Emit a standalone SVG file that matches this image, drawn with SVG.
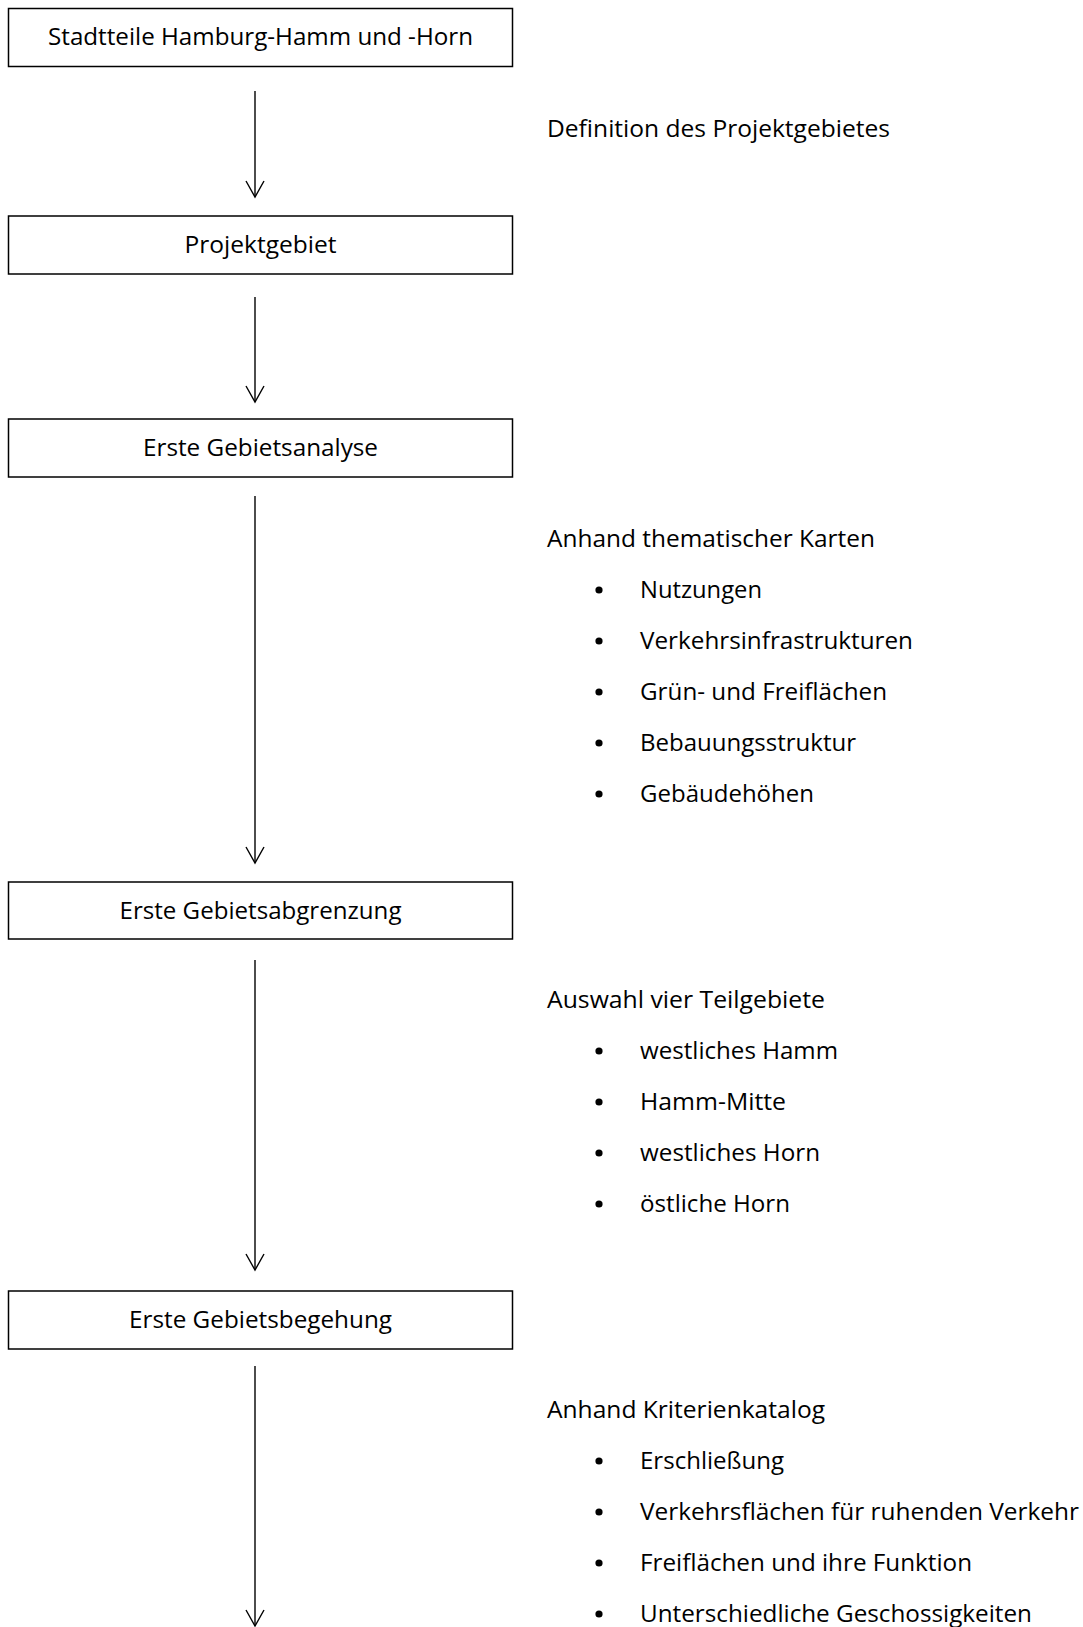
<svg xmlns="http://www.w3.org/2000/svg" width="1083" height="1627" viewBox="0 0 1083 1627">
<style>
.box{fill:#fff;stroke:#000;stroke-width:1.5}
.t{font-family:"Open Sans","Liberation Sans",sans-serif;font-size:23.5px;fill:#000}
.c{text-anchor:middle}
.conn line{stroke:#000;stroke-width:1.4}
.dot{fill:#000}
</style>
<defs>
<marker id="ah" markerUnits="userSpaceOnUse" markerWidth="22" markerHeight="24" viewBox="-19 -12 22 24" refX="0" refY="0" orient="auto">
<path d="M-16,-9 L0,0 L-16,9" fill="none" stroke="#000" stroke-width="1.4"/>
</marker>
</defs>
<rect width="1083" height="1627" fill="#fff"/>
<g id="n1"><rect class="box" x="8.5" y="8.5" width="504" height="58"/><text class="t c" x="260.5" y="45" textLength="425" lengthAdjust="spacingAndGlyphs">Stadtteile Hamburg-Hamm und -Horn</text></g>
<g id="n2"><rect class="box" x="8.5" y="216" width="504" height="58"/><text class="t c" x="260.5" y="253" textLength="152" lengthAdjust="spacingAndGlyphs">Projektgebiet</text></g>
<g id="n3"><rect class="box" x="8.5" y="419" width="504" height="58"/><text class="t c" x="260.5" y="456" textLength="235" lengthAdjust="spacingAndGlyphs">Erste Gebietsanalyse</text></g>
<g id="n4"><rect class="box" x="8.5" y="882" width="504" height="57"/><text class="t c" x="260.5" y="919" textLength="282" lengthAdjust="spacingAndGlyphs">Erste Gebietsabgrenzung</text></g>
<g id="n5"><rect class="box" x="8.5" y="1291" width="504" height="58"/><text class="t c" x="260.5" y="1328" textLength="263" lengthAdjust="spacingAndGlyphs">Erste Gebietsbegehung</text></g>
<g class="conn" id="connectors">
<line x1="255" y1="91" x2="255" y2="197" marker-end="url(#ah)"/>
<line x1="255" y1="297" x2="255" y2="402" marker-end="url(#ah)"/>
<line x1="255" y1="496" x2="255" y2="863" marker-end="url(#ah)"/>
<line x1="255" y1="960" x2="255" y2="1270" marker-end="url(#ah)"/>
<line x1="255" y1="1366" x2="255" y2="1626" marker-end="url(#ah)"/>
</g>
<g id="label1"><text class="t" x="547" y="137" textLength="343" lengthAdjust="spacingAndGlyphs">Definition des Projektgebietes</text></g>
<g id="label2">
<text class="t" x="547" y="547" textLength="328" lengthAdjust="spacingAndGlyphs">Anhand thematischer Karten</text>
<circle class="dot" cx="599" cy="590" r="3.6"/><text class="t" x="640" y="598" textLength="122" lengthAdjust="spacingAndGlyphs">Nutzungen</text>
<circle class="dot" cx="599" cy="641" r="3.6"/><text class="t" x="640" y="649" textLength="273" lengthAdjust="spacingAndGlyphs">Verkehrsinfrastrukturen</text>
<circle class="dot" cx="599" cy="692" r="3.6"/><text class="t" x="640" y="700" textLength="247" lengthAdjust="spacingAndGlyphs">Grün- und Freiflächen</text>
<circle class="dot" cx="599" cy="743" r="3.6"/><text class="t" x="640" y="751" textLength="216" lengthAdjust="spacingAndGlyphs">Bebauungsstruktur</text>
<circle class="dot" cx="599" cy="794" r="3.6"/><text class="t" x="640" y="802" textLength="174" lengthAdjust="spacingAndGlyphs">Gebäudehöhen</text>
</g>
<g id="label3">
<text class="t" x="547" y="1008" textLength="278" lengthAdjust="spacingAndGlyphs">Auswahl vier Teilgebiete</text>
<circle class="dot" cx="599" cy="1051" r="3.6"/><text class="t" x="640" y="1059" textLength="198" lengthAdjust="spacingAndGlyphs">westliches Hamm</text>
<circle class="dot" cx="599" cy="1102" r="3.6"/><text class="t" x="640" y="1110" textLength="146" lengthAdjust="spacingAndGlyphs">Hamm-Mitte</text>
<circle class="dot" cx="599" cy="1153" r="3.6"/><text class="t" x="640" y="1161" textLength="180" lengthAdjust="spacingAndGlyphs">westliches Horn</text>
<circle class="dot" cx="599" cy="1204" r="3.6"/><text class="t" x="640" y="1212" textLength="150" lengthAdjust="spacingAndGlyphs">östliche Horn</text>
</g>
<g id="label4">
<text class="t" x="547" y="1418" textLength="278" lengthAdjust="spacingAndGlyphs">Anhand Kriterienkatalog</text>
<circle class="dot" cx="599" cy="1461" r="3.6"/><text class="t" x="640" y="1469" textLength="144" lengthAdjust="spacingAndGlyphs">Erschließung</text>
<circle class="dot" cx="599" cy="1512" r="3.6"/><text class="t" x="640" y="1520" textLength="439" lengthAdjust="spacingAndGlyphs">Verkehrsflächen für ruhenden Verkehr</text>
<circle class="dot" cx="599" cy="1563" r="3.6"/><text class="t" x="640" y="1571" textLength="332" lengthAdjust="spacingAndGlyphs">Freiflächen und ihre Funktion</text>
<circle class="dot" cx="599" cy="1614" r="3.6"/><text class="t" x="640" y="1622" textLength="392" lengthAdjust="spacingAndGlyphs">Unterschiedliche Geschossigkeiten</text>
</g>
</svg>
